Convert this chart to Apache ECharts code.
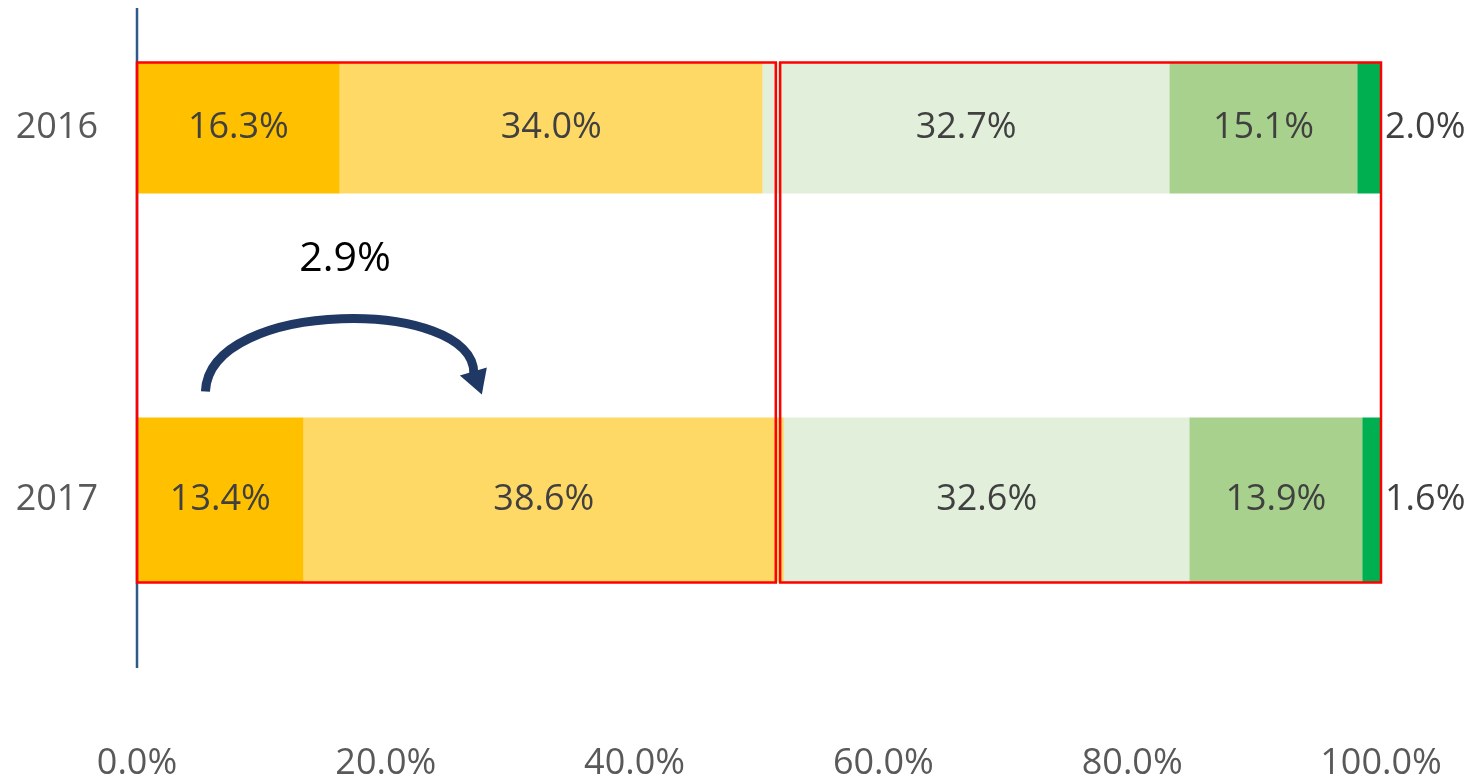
<!DOCTYPE html>
<html>
<head>
<meta charset="utf-8">
<script src="https://cdn.jsdelivr.net/npm/echarts@6/dist/echarts.min.js"></script>
<style>
  html, body { margin: 0; padding: 0; background: #fff; }
  #chart { width: 1474px; height: 780px; }
</style>
</head>
<body>
<div id="chart"></div>
<script>
// data
const years = ['2016', '2017'];
const share2016 = [16.3, 34.0, 32.7, 15.1, 2.0];
const share2017 = [13.4, 38.6, 32.6, 13.9, 1.6];
const segmentColors = ['#FFC000', '#FFD966', '#E2EFDA', '#A9D18E', '#00B050'];
const xTicks = [0, 20, 40, 60, 80, 100];
const shiftLabel = '2.9%';
const boxLeft = [0, 51.35];
const boxRight = [51.7, 100];
const arrowSpan = [5.5, 27.8];

const FONT = '"Open Sans", sans-serif';
const barWidths = [131, 165];

const makeSeries = (values, yearIdx) =>
  values.map((v, i) => {
    const data = years.map((_, k) => (k === yearIdx ? v : '-'));
    const last = i === values.length - 1;
    return {
      name: years[yearIdx] + '-' + i,
      type: 'bar',
      stack: 'y' + yearIdx,
      yAxisIndex: yearIdx,
      barWidth: barWidths[yearIdx],
      data,
      itemStyle: { color: segmentColors[i] },
      label: {
        show: true,
        position: last ? 'right' : 'inside',
        distance: 4,
        formatter: (p) => p.value.toFixed(1) + '%',
        color: '#404040',
        fontSize: 36,
        fontFamily: FONT,
      },
      emphasis: { disabled: true },
    };
  });

const chart = echarts.init(document.getElementById('chart'));

const yAxisBase = {
  type: 'category',
  data: years,
  inverse: true,
  axisLine: { show: false },
  axisTick: { show: false },
  splitLine: { show: false },
};

chart.setOption({
  animation: false,
  grid: { left: 137, right: 93, top: -58, height: 744, outerBoundsMode: 'none', containLabel: false },
  xAxis: {
    type: 'value',
    min: xTicks[0],
    max: xTicks[xTicks.length - 1],
    interval: 20,
    axisLine: { show: false },
    axisTick: { show: false },
    splitLine: { show: false },
    axisLabel: {
      margin: 60,
      color: '#595959',
      fontSize: 36,
      fontFamily: FONT,
      formatter: (v) => v.toFixed(1) + '%',
    },
  },
  yAxis: [
    Object.assign({}, yAxisBase, {
      axisLabel: { margin: 39, color: '#595959', fontSize: 36, fontFamily: FONT },
    }),
    Object.assign({}, yAxisBase, { show: false }),
  ],
  series: [...makeSeries(share2016, 0), ...makeSeries(share2017, 1)],
});

// annotations placed from the axes
const px = (v) => chart.convertToPixel({ xAxisIndex: 0 }, v);
const py = (cat, axis) => chart.convertToPixel({ yAxisIndex: axis }, cat);

const y2016 = py(years[0], 0);
const y2017 = py(years[1], 1);
const boxTop = y2016 - barWidths[0] / 2;
const boxBottom = y2017 + barWidths[1] / 2;
const x0 = px(0);

const box = (range) => ({
  type: 'rect',
  shape: { x: px(range[0]), y: boxTop, width: px(range[1]) - px(range[0]), height: boxBottom - boxTop },
  style: { fill: 'none', stroke: '#FF0000', lineWidth: 2.5 },
  z: 100,
});

const ax = px(arrowSpan[0]);
const bx = px(arrowSpan[1]);
const barTop2017 = y2017 - barWidths[1] / 2;
const startY = barTop2017 - 26;

chart.setOption({
  graphic: [
    {
      type: 'line',
      shape: { x1: x0, y1: y2016 - 120, x2: x0, y2: y2017 + 168 },
      style: { stroke: '#2E5A88', lineWidth: 2.5 },
      z: 90,
    },
    box(boxLeft),
    box(boxRight),
    {
      type: 'bezierCurve',
      shape: {
        x1: ax, y1: startY,
        cpx1: ax + 4, cpy1: startY - 94,
        cpx2: bx - 8, cpy2: startY - 94,
        x2: bx - 9, y2: startY - 18,
      },
      style: { stroke: '#203864', lineWidth: 9, fill: 'none' },
      z: 100,
    },
    {
      type: 'polygon',
      shape: {
        points: [
          [bx - 23, startY - 16],
          [bx + 4, startY - 24],
          [bx - 1, startY + 3],
        ],
      },
      style: { fill: '#203864' },
      z: 100,
    },
    {
      type: 'text',
      x: (ax + bx) / 2 + 1,
      y: startY - 132,
      style: {
        text: shiftLabel,
        fill: '#000000',
        font: '41px ' + FONT,
        textAlign: 'center',
        textVerticalAlign: 'middle',
      },
      z: 100,
    },
  ],
});
</script>
</body>
</html>
